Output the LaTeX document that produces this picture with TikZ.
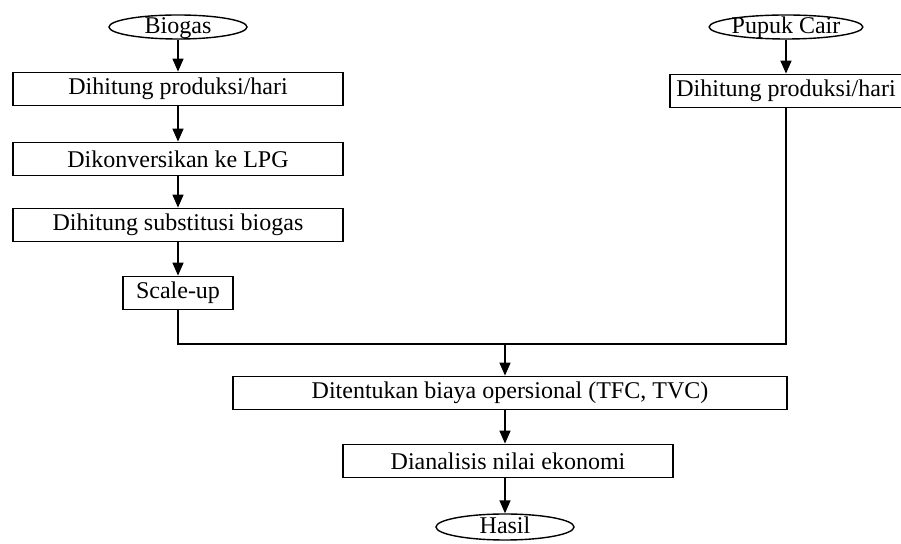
\documentclass[tikz,border=0pt]{standalone}
\usepackage{fontspec}
\setmainfont{Liberation Serif}
\usepackage{tikz}
\usetikzlibrary{shapes, arrows.meta, positioning, calc}

\begin{document}
\begin{tikzpicture}[x=0.5pt, y=-0.5pt, font=\fontsize{12}{14}\selectfont,
    box/.style={draw, line width=0.9pt, rectangle, minimum height=16.5pt, inner sep=0pt},
    term/.style={draw, line width=0.7pt, ellipse, minimum width=69pt, minimum height=12pt,
      inner sep=0pt, text height=7pt, text depth=0pt},
    arr/.style={-{Triangle[width=5.5pt,length=6.5pt]}, line width=0.8pt},
    line/.style={line width=0.8pt}]
  \useasboundingbox (0,0) rectangle (901,544);

  % kolom biogas
  \node[term] (biogas) at (178,27) {Biogas};
  \node[box, minimum width=165pt] (prod1) at (178,89) {Dihitung produksi/hari};
  \node[box, minimum width=165pt] (konv) at (178,159) {Dikonversikan ke LPG};
  \node[box, minimum width=165pt] (subst) at (178,225) {Dihitung substitusi biogas};
  \node[box, minimum width=55pt] (scale) at (178,293) {Scale-up};

  % kolom pupuk cair
  \node[term] (pupuk) at (786,27) {Pupuk Cair};
  \node[box, minimum width=116pt] (prod2) at (786,91) {Dihitung produksi/hari};

  % bagian bawah
  \coordinate (j) at (505,344);
  \node[box, minimum width=277pt] (biaya) at (510,393) {Ditentukan biaya opersional (TFC, TVC)};
  \node[box, minimum width=165pt] (analisis) at (508,461) {Dianalisis nilai ekonomi};
  \node[term, minimum height=13pt] (hasil) at (505,527) {Hasil};

  \draw[arr] (biogas) -- (prod1);
  \draw[arr] (prod1) -- (konv);
  \draw[arr] (konv) -- (subst);
  \draw[arr] (subst) -- (scale);
  \draw[arr] (pupuk) -- (prod2);
  \draw[line] (scale.south) |- (prod2.south |- j) -- (prod2.south);
  \draw[arr] (j) -- (j |- biaya.north);
  \draw[arr] (j |- biaya.south) -- (j |- analisis.north);
  \draw[arr] (j |- analisis.south) -- (hasil);
\end{tikzpicture}
\end{document}
